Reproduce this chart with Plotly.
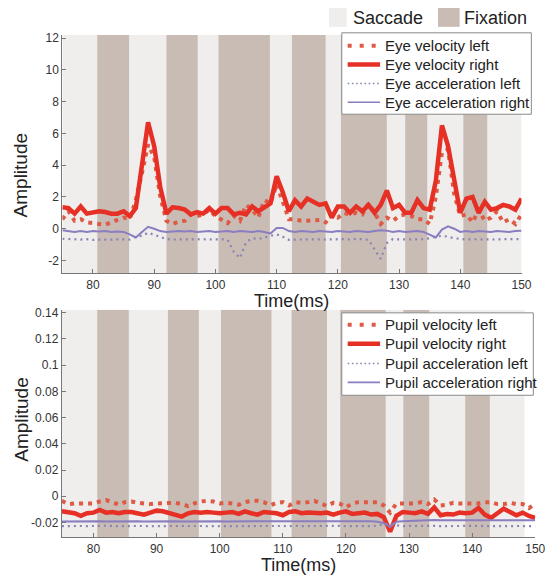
import plotly.graph_objects as go

W, H = 560, 578
time_ms = list(range(75, 151))

# ---------------- top panel (eye) ----------------
eye_vel_left = [0.6, 1.1, 0.5, 0.6, 0.4, 0.35, 0.3, 0.25, 0.4, 0.55, 0.7, 0.6, 1.8, 3.5, 5.3, 4.5, 2.0, 0.5, 0.3, 0.45,
                0.5, 0.9, 0.8, 0.9, 1.2, 0.8, 0.55, 0.35, 0.8, 0.5, 1.5, 1.2, 0.7, 1.8, 1.6, 2.8, 1.7, 0.6, 0.6, 0.5,
                0.5, 0.5, 0.55, 0.4, 0.9, 0.7, 1.0, 0.9, 1.0, 0.9, 1.6, 1.0, 0.3, 0.7, 0.5, 0.8, 0.9, 0.8, 0.6, 0.6,
                0.3, 2.0, 4.8, 5.0, 2.2, 0.8, 0.9, 0.4, 1.2, 0.5, 0.7, 1.1, 0.4, 0.6, 0.3, 0.9]
eye_vel_right = [1.35, 1.3, 0.95, 1.4, 0.95, 1.05, 1.1, 1.05, 0.95, 0.95, 1.1, 0.8, 1.3, 4.0, 6.7, 5.2, 2.6, 0.95, 1.35, 1.3,
                 1.2, 0.9, 1.05, 0.95, 1.3, 0.95, 1.3, 1.3, 0.9, 1.0, 0.9, 1.4, 1.1, 1.35, 1.6, 3.3, 2.3, 1.1, 1.8, 1.4,
                 1.9, 1.7, 1.5, 1.6, 0.7, 1.4, 1.4, 1.0, 1.4, 1.1, 1.5, 1.0, 1.5, 2.4, 1.3, 1.5, 1.0, 1.0, 1.8, 1.3,
                 1.2, 3.0, 6.5, 5.2, 3.2, 1.0, 1.9, 2.0, 1.0, 1.7, 1.2, 1.3, 1.5, 1.4, 1.2, 1.9]
eye_acc_left = [-0.63, -0.65, -0.67, -0.68, -0.66, -0.7, -0.68, -0.7, -0.69, -0.67, -0.66, -0.68, -0.5, -0.45, -0.25, -0.4, -0.55, -0.65, -0.68, -0.67,
                -0.66, -0.68, -0.67, -0.66, -0.68, -0.67, -0.66, -0.7, -1.45, -1.85, -0.85, -0.6, -0.65, -0.55, -0.45, -0.35, -0.5, -0.7, -0.68, -0.67,
                -0.68, -0.66, -0.67, -0.68, -0.66, -0.67, -0.65, -0.68, -0.64, -0.66, -0.7, -1.3, -1.9, -0.9, -0.65, -0.67, -0.66, -0.68, -0.67, -0.66,
                -0.6, -0.5, -0.45, -0.5, -0.6, -0.65, -0.68, -0.66, -0.67, -0.65, -0.66, -0.68, -0.66, -0.67, -0.68, -0.66]
eye_acc_right = [-0.1, -0.15, -0.2, -0.15, -0.2, -0.15, -0.18, -0.15, -0.2, -0.17, -0.2, -0.35, -0.55, -0.2, 0.12, 0.0, -0.15, -0.2, -0.17, -0.15,
                 -0.18, -0.15, -0.2, -0.17, -0.15, -0.2, -0.18, -0.15, -0.2, -0.15, -0.17, -0.2, -0.15, -0.2, -0.3, 0.05, 0.05, -0.15, -0.2, -0.15,
                 -0.17, -0.2, -0.15, -0.18, -0.2, -0.15, -0.17, -0.2, -0.15, -0.18, -0.2, -0.15, -0.1, -0.12, -0.2, -0.15, -0.2, -0.17, -0.15, -0.2,
                 -0.35, -0.55, -0.05, 0.15, 0.0, -0.2, -0.15, -0.2, -0.15, -0.18, -0.2, -0.15, -0.17, -0.2, -0.15, -0.12]

# ---------------- bottom panel (pupil) ----------------
pupil_vel_left = [-0.0035, -0.006, -0.0055, -0.0055, -0.006, -0.0055, -0.004, -0.003, -0.0045, -0.0065, -0.0045, -0.004, -0.005, -0.0055, -0.006, -0.0055,
                  -0.0055, -0.0055, -0.005, -0.006, -0.0075, -0.0055, -0.004, -0.0035, -0.004, -0.0055, -0.005, -0.0055, -0.0065, -0.0045, -0.0035, -0.0035,
                  -0.0045, -0.007, -0.005, -0.0045, -0.007, -0.0045, -0.005, -0.0045, -0.0035, -0.0055, -0.0075, -0.005, -0.0055, -0.0085, -0.0055, -0.0045,
                  -0.0045, -0.005, -0.0045, -0.007, -0.0125, -0.0055, -0.0055, -0.005, -0.0055, -0.0045, -0.006, -0.0025, -0.007, -0.0065, -0.005, -0.0055,
                  -0.0055, -0.006, -0.0055, -0.0045, -0.0045, -0.006, -0.006, -0.005, -0.006, -0.006, -0.009, -0.006]
pupil_vel_right = [-0.0115, -0.012, -0.013, -0.015, -0.013, -0.0125, -0.0105, -0.0125, -0.012, -0.013, -0.012, -0.012, -0.013, -0.014, -0.0125, -0.011,
                   -0.0115, -0.013, -0.014, -0.0155, -0.013, -0.012, -0.0125, -0.012, -0.0125, -0.013, -0.0125, -0.012, -0.0135, -0.0115, -0.013, -0.014,
                   -0.012, -0.0125, -0.013, -0.0145, -0.012, -0.0115, -0.013, -0.0125, -0.013, -0.013, -0.0125, -0.014, -0.0125, -0.0115, -0.0135, -0.013,
                   -0.0125, -0.014, -0.0135, -0.016, -0.027, -0.015, -0.012, -0.0125, -0.013, -0.0115, -0.0135, -0.0085, -0.0145, -0.0135, -0.014, -0.0125,
                   -0.013, -0.0125, -0.009, -0.014, -0.0165, -0.013, -0.0095, -0.012, -0.0145, -0.0125, -0.015, -0.0165]
pupil_acc_left = [-0.0228, -0.0226, -0.0229, -0.0227, -0.0228, -0.0226, -0.0229, -0.0225, -0.0228, -0.0227, -0.0229, -0.0226, -0.0228, -0.0227, -0.0229, -0.0226,
                  -0.0228, -0.0227, -0.0226, -0.0229, -0.0228, -0.0226, -0.0227, -0.0229, -0.0228, -0.0226, -0.0227, -0.0228, -0.0229, -0.0226, -0.0228, -0.0227,
                  -0.0226, -0.0229, -0.0228, -0.0227, -0.0229, -0.0225, -0.0228, -0.0227, -0.0226, -0.0228, -0.0229, -0.0227, -0.0226, -0.0228, -0.0229, -0.0227,
                  -0.0226, -0.0228, -0.0224, -0.0215, -0.0205, -0.0222, -0.0228, -0.0227, -0.0226, -0.0228, -0.0227, -0.0226, -0.0228, -0.0227, -0.0229, -0.0226,
                  -0.0228, -0.0227, -0.0226, -0.0228, -0.0229, -0.0227, -0.0226, -0.0228, -0.0227, -0.0229, -0.0228, -0.0227]
pupil_acc_right = [-0.0192, -0.0191, -0.0192, -0.0193, -0.0192, -0.019, -0.0191, -0.0192, -0.0191, -0.0192, -0.0191, -0.019, -0.0191, -0.0192, -0.0191, -0.019,
                   -0.0191, -0.0192, -0.0191, -0.0192, -0.0191, -0.019, -0.0191, -0.0191, -0.019, -0.0191, -0.0192, -0.0191, -0.019, -0.0191, -0.019, -0.0191,
                   -0.019, -0.0191, -0.019, -0.0191, -0.019, -0.019, -0.0191, -0.019, -0.019, -0.0191, -0.019, -0.019, -0.0191, -0.019, -0.019, -0.0189,
                   -0.019, -0.0191, -0.0195, -0.0205, -0.0235, -0.0195, -0.019, -0.0188, -0.0187, -0.0186, -0.0185, -0.0182, -0.0184, -0.0185, -0.0184, -0.0185,
                   -0.0184, -0.0183, -0.0182, -0.0184, -0.0185, -0.0184, -0.0183, -0.0184, -0.0185, -0.0184, -0.0185, -0.0184]

eye_names = ["Eye velocity left", "Eye velocity right", "Eye acceleration left", "Eye acceleration right"]
pupil_names = ["Pupil velocity left", "Pupil velocity right", "Pupil acceleration left", "Pupil acceleration right"]

# ---------------- saccade / fixation periods ----------------
top_saccade_span = [75, 150]
top_fix_start = [80.7, 92.0, 100.5, 112.5, 120.5, 131.0, 140.5]
top_fix_end = [85.9, 97.1, 108.9, 118.0, 128.0, 134.6, 144.4]
bot_saccade_span = [75, 148.3]
bot_fix_start = [80.6, 91.8, 100.2, 111.4, 119.1, 129.1, 138.9]
bot_fix_end = [85.6, 96.7, 108.2, 117.0, 126.3, 133.2, 142.8]
bot_fix_top = [0.1423, 0.1423, 0.1423, 0.1423, 0.1423, 0.1423, 0.077]

# ---------------- ticks ----------------
x_ticks = [80, 90, 100, 110, 120, 130, 140, 150]
top_y_ticks = [-2, 0, 2, 4, 6, 8, 10, 12]
top_y_labels = ["-2", "0", "2", "4", "6", "8", "10", "12"]
bot_y_ticks = [-0.02, 0, 0.02, 0.04, 0.06, 0.08, 0.1, 0.12, 0.14]
bot_y_labels = ["-0.02", "0", "0.02", "0.04", "0.06", "0.08", "0.1", "0.12", "0.14"]

TOP_YR = [-2.8, 12.2]
BOT_YR = [-0.0314, 0.1423]

SACC_C = "#efeeec"
FIX_C = "#c9bcb5"
RED = "#e62f25"
RED_DOT = "#de5a44"
PURPLE = "#8a7dc0"
PURPLE_DOT = "#8884b4"
FONT = "Liberation Sans, Arial, sans-serif"

STYLES = [
    dict(color=RED_DOT, width=4, dash="4px,5px"),
    dict(color=RED, width=4.5),
    dict(color=PURPLE_DOT, width=2.2, dash="2px,4px"),
    dict(color=PURPLE, width=2),
]
LEG_STYLES = [
    dict(color=RED_DOT, width=4, dash="4px,8px"),
    dict(color=RED, width=4.5),
    dict(color=PURPLE_DOT, width=1.6, dash="1.6px,2.6px"),
    dict(color=PURPLE, width=1.6),
]

fig = go.Figure()
for name, ys, st in zip(eye_names, [eye_vel_left, eye_vel_right, eye_acc_left, eye_acc_right], STYLES):
    fig.add_trace(go.Scatter(x=time_ms, y=ys, mode="lines", name=name, line=st,
                             xaxis="x", yaxis="y", showlegend=False))
for name, ys, st in zip(pupil_names, [pupil_vel_left, pupil_vel_right, pupil_acc_left, pupil_acc_right], STYLES):
    fig.add_trace(go.Scatter(x=time_ms, y=ys, mode="lines", name=name, line=st,
                             xaxis="x2", yaxis="y2", showlegend=False))

shapes = []
shapes.append(dict(type="rect", xref="x", yref="y", x0=top_saccade_span[0], x1=top_saccade_span[1],
                   y0=TOP_YR[0], y1=TOP_YR[1], fillcolor=SACC_C, line=dict(width=0), layer="below"))
for s, e in zip(top_fix_start, top_fix_end):
    shapes.append(dict(type="rect", xref="x", yref="y", x0=s, x1=e, y0=TOP_YR[0], y1=TOP_YR[1],
                       fillcolor=FIX_C, line=dict(width=0), layer="below"))
shapes.append(dict(type="rect", xref="x2", yref="y2", x0=bot_saccade_span[0], x1=bot_saccade_span[1],
                   y0=BOT_YR[0], y1=BOT_YR[1], fillcolor=SACC_C, line=dict(width=0), layer="below"))
for s, e, t in zip(bot_fix_start, bot_fix_end, bot_fix_top):
    shapes.append(dict(type="rect", xref="x2", yref="y2", x0=s, x1=e, y0=BOT_YR[0], y1=t,
                       fillcolor=FIX_C, line=dict(width=0), layer="below"))
# Saccade / Fixation key swatches
shapes.append(dict(type="rect", xref="paper", yref="paper", x0=335 / W, x1=353 / W, y0=1 - 23 / H, y1=1 - 4 / H,
                   fillcolor=SACC_C, line=dict(width=0)))
shapes.append(dict(type="rect", xref="paper", yref="paper", x0=446 / W, x1=468 / W, y0=1 - 23 / H, y1=1 - 4 / H,
                   fillcolor=FIX_C, line=dict(width=0)))

annotations = [
    dict(text="Saccade", x=357 / W, y=1 - 14 / H, xref="paper", yref="paper", xanchor="left", yanchor="middle",
         showarrow=False, font=dict(size=18, color="#222", family=FONT)),
    dict(text="Fixation", x=470 / W, y=1 - 14 / H, xref="paper", yref="paper", xanchor="left", yanchor="middle",
         showarrow=False, font=dict(size=18, color="#222", family=FONT)),
    dict(text="Amplitude", x=21 / W, y=1 - 172 / H, xref="paper", yref="paper", textangle=-90,
         xanchor="center", yanchor="middle", showarrow=False, font=dict(size=19, color="#222", family=FONT)),
    dict(text="Amplitude", x=21 / W, y=1 - 418 / H, xref="paper", yref="paper", textangle=-90,
         xanchor="center", yanchor="middle", showarrow=False, font=dict(size=19, color="#222", family=FONT)),
    dict(text="Time(ms)", x=297 / W, y=1 - 299 / H, xref="paper", yref="paper",
         xanchor="center", yanchor="middle", showarrow=False, font=dict(size=18, color="#222", family=FONT)),
    dict(text="Time(ms)", x=304 / W, y=1 - 565 / H, xref="paper", yref="paper",
         xanchor="center", yanchor="middle", showarrow=False, font=dict(size=18, color="#222", family=FONT)),
]

# hand-built legends (box, line samples, labels)
def add_legend(names, box, rows):
    x0, y0, x1, y1 = box
    shapes.append(dict(type="rect", xref="paper", yref="paper", x0=x0 / W, x1=x1 / W, y0=1 - y1 / H, y1=1 - y0 / H,
                       fillcolor="white", line=dict(color="#8a8a8a", width=1), layer="above"))
    for name, st, ry in zip(names, LEG_STYLES, rows):
        shapes.append(dict(type="line", xref="paper", yref="paper", x0=(x0 + 6) / W, x1=(x0 + 39) / W,
                           y0=1 - ry / H, y1=1 - ry / H, line=st, layer="above"))
        annotations.append(dict(text=name, x=(x0 + 42) / W, y=1 - ry / H, xref="paper", yref="paper",
                                xanchor="left", yanchor="middle", showarrow=False,
                                font=dict(size=15, color="#222", family=FONT)))

add_legend(eye_names, (348, 29, 541, 111), [42, 61, 80, 99])
add_legend(pupil_names, (348, 311, 543, 394), [323, 342, 362, 381])

axis_common = dict(showgrid=False, zeroline=False, showline=True, linecolor="#777", linewidth=1,
                   ticks="inside", ticklen=4, tickcolor="#777", tickfont=dict(size=12, color="#333", family=FONT))

fig.update_layout(
    width=W, height=H, autosize=False,
    margin=dict(l=0, r=0, t=0, b=0),
    paper_bgcolor="white", plot_bgcolor="rgba(0,0,0,0)",
    showlegend=False,
    xaxis=dict(domain=[63.5 / W, 531 / W], range=[75, 150], anchor="y", tickvals=x_ticks, **axis_common),
    yaxis=dict(domain=[1 - 271.1 / H, 1 - 31.1 / H], range=TOP_YR, anchor="x", tickvals=top_y_ticks,
               ticktext=top_y_labels, **axis_common),
    xaxis2=dict(domain=[63 / W, 545 / W], range=[75, 150], anchor="y2", tickvals=x_ticks, **axis_common),
    yaxis2=dict(domain=[1 - 537.1 / H, 1 - 307.9 / H], range=BOT_YR, anchor="x2", tickvals=bot_y_ticks,
                ticktext=bot_y_labels, **axis_common),
    shapes=shapes,
    annotations=annotations,
)

fig.write_html("out.html")
